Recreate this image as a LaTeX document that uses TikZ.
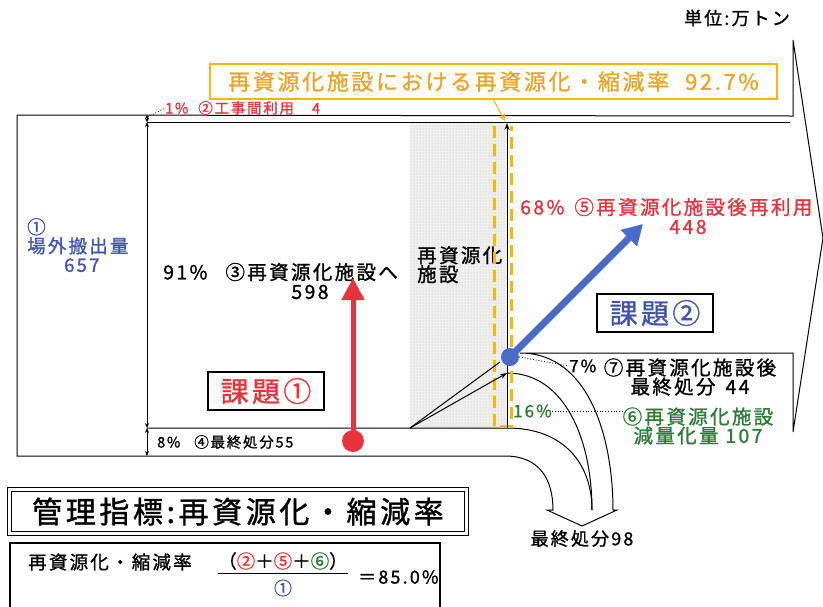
\documentclass[tikz,border=0pt]{standalone}
\usepackage{fontspec}
\setmainfont{Noto Sans CJK JP}[LetterSpace=12,FakeBold=1.2]
\usepackage{xcolor}
\usepackage{tikz}
\usetikzlibrary{positioning,arrows.meta,patterns}

\definecolor{kred}{HTML}{E8323C}
\definecolor{kblue}{HTML}{3F55A8}
\definecolor{karrow}{HTML}{4A6CC8}
\definecolor{kgreen}{HTML}{2F7A36}
\definecolor{kyellow}{HTML}{F5BA00}
\definecolor{korange}{HTML}{E6A62A}

\tikzset{
	flow/.style={line width=1pt},
	dim/.style={line width=0.8pt,{Stealth[length=5pt,width=4pt]}-{Stealth[length=5pt,width=4pt]}},
	lbl/.style={inner sep=0pt,font=\fontsize{19.5}{19}\selectfont},
	mid/.style={inner sep=0pt,font=\fontsize{17}{19}\selectfont},
	small/.style={inner sep=0pt,font=\fontsize{14.5}{16}\selectfont},
	kadai/.style={draw,line width=1.2pt,minimum width=116pt,minimum height=38pt,inner sep=0pt,font=\fontsize{28}{30}\selectfont},
	leader/.style={dotted,line width=0.8pt},
}

\begin{document}
\begin{tikzpicture}[x=1pt,y=-1pt]
	\useasboundingbox (0,0) rectangle (823,606);

	\fill[gray!12] (410,122) rectangle (507,428);
	\fill[pattern=dots,pattern color=gray!55] (410,122) rectangle (507,428);

	\coordinate (fbl) at (410,428);
	\coordinate (ftop) at (507,123);
	\coordinate (fbot) at (507,428);
	\coordinate (fmid) at (507,373);
	\coordinate (dtip) at (582,526);

	\draw[flow] (17,115) -- (17,456) -- (505,456) .. controls (540,456) and (553,480) .. (553,510)
		-- (547,510) -- (dtip) -- (617,510) -- (613,510) .. controls (613,440) and (590,353) .. (520,353)
		-- (793,353) -- (793,432) -- (823,238) -- (793,40) -- (793,116) -- cycle;
	\draw[flow] (147,122) -- (790,122);
	\draw[flow] (147,428) -- (fbot) .. controls (565,428) and (592,465) .. (592,510);
	\draw[flow] (fmid) .. controls (565,373) and (592,440) .. (592,510);

	\draw[dim] (147,122) -- (147,428);
	\draw[dim] (147,428) -- (147,456);
	\draw[line width=0.8pt,{Stealth[length=4pt,width=4pt]}-{Stealth[length=4pt,width=4pt]}] (147,115) -- (147,122);

	\node[lbl,anchor=north west,align=left] (fac) at (417,246) {再資源化\\施設};

	\draw[kyellow,line width=3pt,dash pattern=on 12pt off 6pt] (494,126) -- (494,426) -- (511,426) -- (511,126);
	\draw[flow,-{Stealth[length=7pt,width=5pt]}] (fbot) -- (ftop);
	\draw[flow] (fbl) -- (500,362);
	\draw[flow,-{Stealth[length=7pt,width=5pt]}] (fbl) -- (fmid);

	\node[draw=kyellow,line width=1.5pt,minimum width=567pt,minimum height=35pt,inner sep=0pt,text=korange,font=\fontsize{22}{24}\selectfont] (rate) at (493.5,81.5) {再資源化施設における再資源化・縮減率\hspace{16pt}92.7\%};
	\draw[kyellow,line width=1pt,-{Stealth[length=7pt,width=7pt,open]}] (rate.south) -- (505,121);

	\node[lbl,font=\fontsize{18}{19}\selectfont] (unit) at (737,18) {単位:万トン};

	\node[small,anchor=west,text=kred] (direct) at (165,108) {1\%\hspace{10pt}②工事間利用\hspace{18pt}4};
	\draw[leader] (148,117) -- (direct.west);

	\node[lbl,anchor=north west,align=left,text=kblue,font=\fontsize{18.5}{19}\selectfont] (out) at (27,218) {①\\場外搬出量\\\hspace*{37pt}657};

	\node[lbl,anchor=west] (to) at (163,272) {91\%\hspace{18pt}③再資源化施設へ};
	\node[lbl] (toval) at (310,292) {598};

	\node[small,anchor=west] (landfill) at (157,442) {8\%\hspace{14pt}④最終処分55};

	\node[lbl,anchor=west,text=kred] (reuse) at (520,207) {68\%\hspace{10pt}⑤再資源化施設後再利用};
	\node[lbl,text=kred] (reuseval) at (688,227) {448};

	\node[kadai,text=kred] (task1) at (266,391) {課題①};
	\node[kadai,text=kblue] (task2) at (655,313) {課題②};

	\node[circle,fill=kred,minimum size=22pt,inner sep=0pt] (rdot) at (353,441) {};
	\draw[kred,line width=5pt,-{Triangle[length=22pt,width=22pt]}] (rdot.center) -- (353,278);

	\node[circle,fill=karrow,minimum size=18pt,inner sep=0pt] (bdot) at (510,357) {};
	\draw[karrow,line width=7pt,-{Triangle[length=20pt,width=22pt]}] (bdot.center) -- (643,224);

	\node[mid,anchor=west] (p7) at (569,366) {7\%};
	\draw[leader] (bdot.east) -- (p7.west);
	\node[lbl,align=center] (final7) at (690,377) {⑦再資源化施設後\\最終処分\hspace{10pt}44};

	\node[mid,anchor=west,text=kgreen] (p16) at (513,411) {16\%};
	\node[lbl,align=center,text=kgreen] (cut6) at (698,426) {⑥再資源化施設\\減量化量 107};
	\draw[leader] (p16.east) -- (cut6.west |- p16.east);

	\node[lbl,font=\fontsize{18}{19}\selectfont,below=4pt of dtip] (final) {最終処分98};

	\node[draw,double,double distance=2.5pt,line width=1.2pt,minimum width=457pt,minimum height=44pt,inner sep=0pt,font=\fontsize{30}{32}\selectfont] (index) at (238,511.5) {管理指標:再資源化・縮減率};

	\draw[line width=1.2pt] (10,543) rectangle (440,620);
	\node[lbl,anchor=west,font=\fontsize{18.5}{19}\selectfont] (fname) at (28,562) {再資源化・縮減率};
	\node[lbl,font=\fontsize{18.5}{19}\selectfont] (num) at (283,561) {（{\color{kred}②}＋{\color{kred}⑤}＋{\color{kgreen}⑥}）};
	\draw[line width=0.9pt] ([yshift=-3pt]num.south west) -- ([yshift=-3pt]num.south east);
	\node[lbl,text=kblue,font=\fontsize{18}{19}\selectfont] (den) at (283,588) {①};
	\node[lbl,anchor=west,font=\fontsize{18}{19}\selectfont] (res) at (358,577) {＝85.0\%};
\end{tikzpicture}
\end{document}
